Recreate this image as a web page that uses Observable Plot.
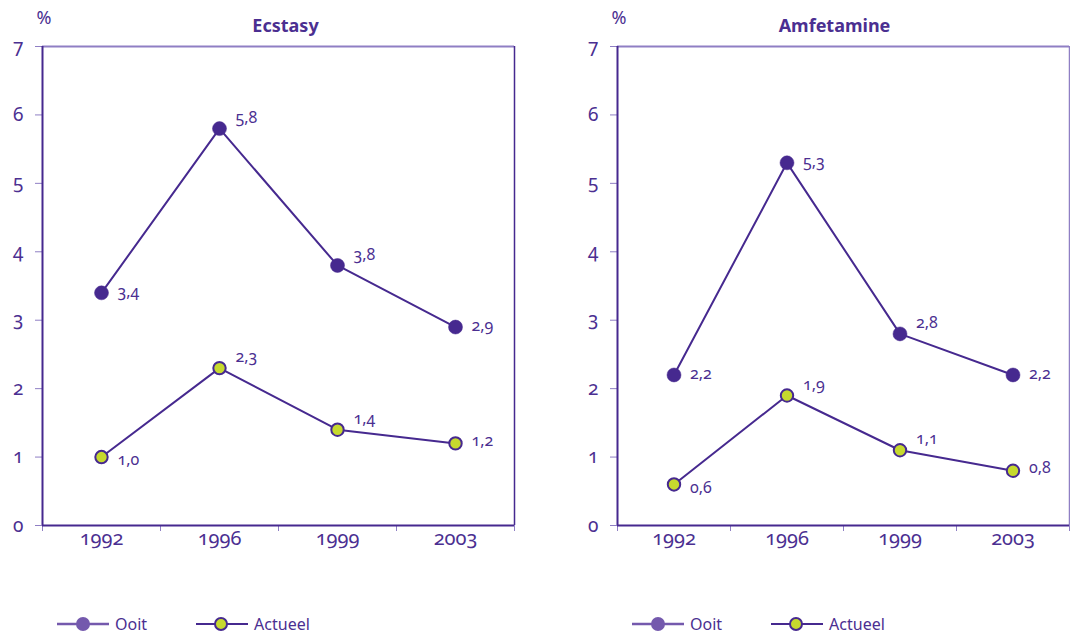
<!DOCTYPE html>
<html>
<head>
<meta charset="utf-8">
<script src="https://cdn.jsdelivr.net/npm/d3@7"></script>
<script src="https://cdn.jsdelivr.net/npm/@observablehq/plot@0.6"></script>
<style>
  html, body { margin: 0; padding: 0; background: #fff; }
  #wrap { position: relative; width: 1070px; height: 634px; font-family: "Noto Sans", sans-serif; font-variant-numeric: oldstyle-nums; font-feature-settings: "onum" 1; }
  #wrap svg text { font-variant-numeric: oldstyle-nums !important; font-feature-settings: "onum" 1 !important; }
  .panel { position: absolute; top: 0; width: 535px; height: 634px; }
  .legend { position: absolute; top: 613px; display: flex; align-items: center; color: #4b2f91; font-size: 16px; }
  .legend .item { display: flex; align-items: center; }
  .legend svg { display: block; }
  .legend span { margin-left: 6px; }
</style>
</head>
<body>
<div id="wrap"></div>
<script>
const years = ["1992", "1996", "1999", "2003"];
const yTicks = [0, 1, 2, 3, 4, 5, 6, 7];
const seriesNames = ["Ooit", "Actueel"];

const ecstasyOoit = [3.4, 5.8, 3.8, 2.9];
const ecstasyActueel = [1.0, 2.3, 1.4, 1.2];
const amfetamineOoit = [2.2, 5.3, 2.8, 2.2];
const amfetamineActueel = [0.6, 1.9, 1.1, 0.8];

// label placement relative to the point: "up", "mid", "down"
const ecstasyOoitPlace = ["mid", "up", "up", "mid"];
const ecstasyActueelPlace = ["down", "up", "up", "midup"];
const amfetamineOoitPlace = ["mid", "mid", "up", "mid"];
const amfetamineActueelPlace = ["down", "up", "up", "midup"];

const panels = [
  {title: "Ecstasy", ooit: ecstasyOoit, actueel: ecstasyActueel, ooitPlace: ecstasyOoitPlace, actPlace: ecstasyActueelPlace},
  {title: "Amfetamine", ooit: amfetamineOoit, actueel: amfetamineActueel, ooitPlace: amfetamineOoitPlace, actPlace: amfetamineActueelPlace}
];

const TEXT = "#4b2f91";
const LINE = "#46298f";
const LIGHT = "#8f7fc4";
const GREEN = "#c6d92e";
const LEGEND_PURPLE = "#7459ad";
const dyMap = {up: -11, mid: -1, midup: -3, down: 3};
const fmt = v => d3.format(".1f")(v).replace(".", ",");

const layout = [
  {left: 0, marginLeft: 42, marginRight: 21, rightColor: LINE, titleDx: 7},
  {left: 535, marginLeft: 82, marginRight: 1, rightColor: LIGHT, titleDx: -9}
];

const wrap = document.getElementById("wrap");

panels.forEach((p, k) => {
  const L = layout[k];
  const rows = [];
  years.forEach((yr, i) => {
    rows.push({series: "Ooit", i: i + 0.5, value: p.ooit[i], place: p.ooitPlace[i]});
  });
  years.forEach((yr, i) => {
    rows.push({series: "Actueel", i: i + 0.5, value: p.actueel[i], place: p.actPlace[i]});
  });
  const ooitRows = rows.filter(d => d.series === "Ooit");
  const actRows = rows.filter(d => d.series === "Actueel");

  const plot = Plot.plot({
    width: 535,
    height: 600,
    marginLeft: L.marginLeft,
    marginRight: L.marginRight,
    marginTop: 46,
    marginBottom: 75,
    style: {fontFamily: "'Noto Sans', sans-serif", color: TEXT, background: "transparent", overflow: "visible"},
    x: {domain: [0, years.length], axis: null},
    y: {domain: [0, 7], axis: null},
    marks: [
      // frame
      Plot.ruleY([7], {stroke: LIGHT, strokeWidth: 2}),
      Plot.ruleX([years.length], {stroke: L.rightColor, strokeWidth: 1.5}),
      // y axis ticks and labels
      Plot.axisY({ticks: yTicks, label: null, tickSize: 7, stroke: LIGHT, tickFormat: () => ""}),
      Plot.text(yTicks, {frameAnchor: "left", y: d => d, text: d => String(d), textAnchor: "end", dx: -19, fill: TEXT, fontSize: 19, fontVariant: "oldstyle-nums"}),
      // x boundary ticks
      Plot.axisX({ticks: d3.range(years.length + 1), label: null, tickSize: 6, stroke: LIGHT, tickFormat: () => ""}),
      // x labels at band centers
      Plot.text(years, {frameAnchor: "bottom", x: (d, i) => i + 0.5, text: d => d, dy: 19, fill: TEXT, fontSize: 20, fontVariant: "oldstyle-nums"}),
      Plot.ruleX([0], {stroke: LINE, strokeWidth: 2}),
      Plot.ruleY([0], {stroke: LINE, strokeWidth: 2}),
      // title and unit
      Plot.text([p.title], {frameAnchor: "top", dx: L.titleDx, dy: -27, fill: TEXT, fontSize: 18, fontWeight: "bold"}),
      Plot.text(["%"], {frameAnchor: "top-left", dx: -6, dy: -35, textAnchor: "start", fill: TEXT, fontSize: 18}),
      // lines
      Plot.line(ooitRows, {x: "i", y: "value", stroke: LINE, strokeWidth: 2}),
      Plot.line(actRows, {x: "i", y: "value", stroke: LINE, strokeWidth: 2}),
      // dots
      Plot.dot(ooitRows, {x: "i", y: "value", r: 7, fill: LINE, stroke: LINE, strokeWidth: 0.5}),
      Plot.dot(actRows, {x: "i", y: "value", r: 6.2, fill: GREEN, stroke: LINE, strokeWidth: 2}),
      // labels
      ...["up", "mid", "midup", "down"].map(pl =>
        Plot.text(rows.filter(d => d.place === pl), {x: "i", y: "value", text: d => fmt(d.value), textAnchor: "start", dx: 16, dy: dyMap[pl], fill: TEXT, fontSize: 16, fontVariant: "oldstyle-nums"})
      )
    ]
  });

  const panel = document.createElement("div");
  panel.className = "panel";
  panel.style.left = L.left + "px";
  panel.appendChild(plot);

  const legend = document.createElement("div");
  legend.className = "legend";
  legend.style.left = (L.marginLeft + 15) + "px";
  legend.innerHTML = `
    <div class="item">
      <svg width="52" height="20"><line x1="0" x2="52" y1="10" y2="10" stroke="${LEGEND_PURPLE}" stroke-width="2.5"/><circle cx="26" cy="10" r="7" fill="${LEGEND_PURPLE}"/></svg>
      <span>${seriesNames[0]}</span>
    </div>
    <div class="item" style="margin-left:49px">
      <svg width="52" height="20"><line x1="0" x2="52" y1="10" y2="10" stroke="${LINE}" stroke-width="2"/><circle cx="25" cy="10" r="6" fill="${GREEN}" stroke="${LINE}" stroke-width="2"/></svg>
      <span>${seriesNames[1]}</span>
    </div>`;
  panel.appendChild(legend);
  wrap.appendChild(panel);
});
</script>
</body>
</html>
